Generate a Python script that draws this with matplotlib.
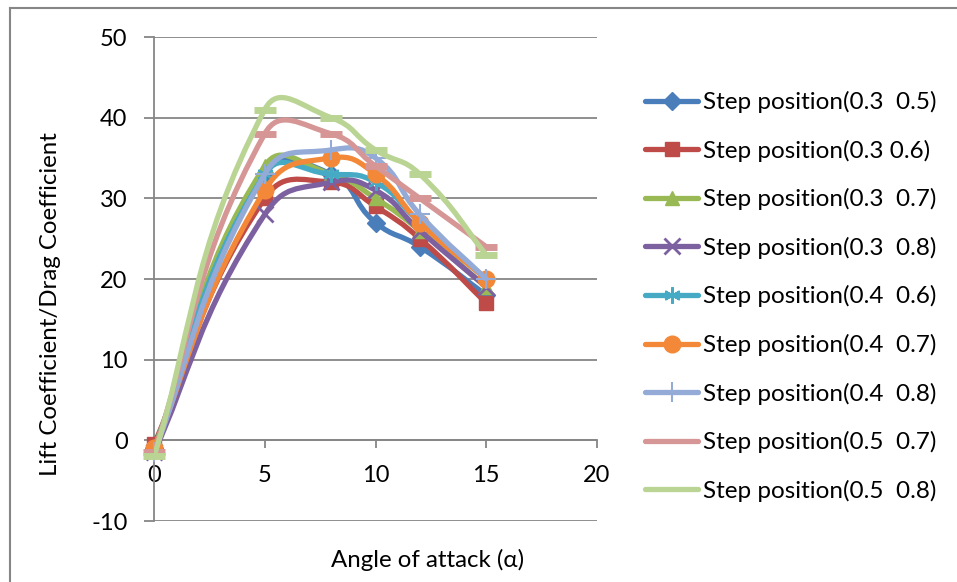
import numpy as np
import matplotlib
matplotlib.use("Agg")
from matplotlib import pyplot as plt
from matplotlib.path import Path
from matplotlib.patches import PathPatch
from matplotlib.lines import Line2D

# angle of attack (deg)
alpha = [0, 5, 8, 10, 12, 15]

# lift/drag ratio for each step position
s_03_05 = [-1.0, 33, 33, 27, 24, 18]
s_03_06 = [-0.5, 30, 32, 29, 25, 17]
s_03_07 = [-1.0, 34, 33, 30, 26, 19]
s_03_08 = [-1.5, 28, 32, 31, 26, 19]
s_04_06 = [-1.0, 33, 33, 32, 27, 20]
s_04_07 = [-1.0, 31, 35, 33, 27, 20]
s_04_08 = [-1.5, 33, 36, 35, 28, 20]
s_05_07 = [-1.5, 38, 38, 34, 30, 24]
s_05_08 = [-2.0, 41, 40, 36, 33, 23]

labels = ['Step position(0.3  0.5)', 'Step position(0.3 0.6)', 'Step position(0.3  0.7)',
          'Step position(0.3  0.8)', 'Step position(0.4  0.6)', 'Step position(0.4  0.7)',
          'Step position(0.4  0.8)', 'Step position(0.5  0.7)', 'Step position(0.5  0.8)']
series = [s_03_05, s_03_06, s_03_07, s_03_08, s_04_06, s_04_07, s_04_08, s_05_07, s_05_08]

colors = ['#4A7EBB', '#BE4B48', '#98B954', '#7D60A0', '#46AAC5', '#F38938',
          '#94ABD8', '#D69695', '#B9D493']
markers = ['D', 's', '^', 'x', (6, 2, 0), 'o', '+', '_', '_']
msizes = [9, 10, 10, 11, 12, 12, 14, 16, 16]
mews = [1, 1, 1, 2, 1.5, 1, 1.5, 5, 5]

plt.rcParams['font.family'] = ['Lato', 'DejaVu Sans']
plt.rcParams['axes.unicode_minus'] = False


def smooth_path(ax, x, y, f=0.5):
    # bezier through the points, tangents weighted by segment length (screen space)
    pts = ax.transData.transform(np.column_stack([x, y]).astype(float))
    n = len(pts)
    d = np.hypot(*np.diff(pts, axis=0).T)
    verts = [pts[0]]
    codes = [Path.MOVETO]
    for i in range(n - 1):
        p1, p2 = pts[i], pts[i + 1]
        if i > 0:
            c1 = p1 + (p2 - pts[i - 1]) * f * d[i] / (d[i - 1] + d[i])
        else:
            c1 = p1 + (p2 - p1) / 3.0
        if i + 2 < n:
            c2 = p2 - (pts[i + 2] - p1) * f * d[i] / (d[i] + d[i + 1])
        else:
            c2 = p2 - (p2 - p1) / 3.0
        verts += [c1, c2, p2]
        codes += [Path.CURVE4] * 3
    verts = ax.transData.inverted().transform(np.array(verts))
    return Path(verts, codes)


fig = plt.figure(figsize=(9.57, 5.82), dpi=100)
ax = fig.add_axes([154 / 957, 1 - 521 / 582, (597 - 154) / 957, (521 - 37) / 582])
ax.set_xlim(0, 20)
ax.set_ylim(-10, 50)

grey = '#868686'
handles = []
for i, (vals, lab) in enumerate(zip(series, labels)):
    c = colors[i]
    patch = PathPatch(smooth_path(ax, alpha, vals), facecolor='none', edgecolor=c,
                      lw=3.8, capstyle='round', joinstyle='round', zorder=2 + i)
    ax.add_patch(patch)
    ax.plot(alpha, vals, linestyle='none', marker=markers[i], ms=msizes[i],
            color=c, mec=c, mew=mews[i], zorder=2 + i, clip_on=False)
    handles.append(Line2D([], [], color=c, lw=3.8, marker=markers[i],
                          ms=msizes[i], mec=c, mew=mews[i] if i < 7 else 0,
                          solid_capstyle='round'))

ax.set_xticks([0, 5, 10, 15, 20])
ax.set_yticks(range(-10, 51, 10))
ax.yaxis.grid(True, color=grey, lw=1.3)
ax.set_axisbelow(True)
for s in ['top', 'right']:
    ax.spines[s].set_visible(False)
ax.spines['bottom'].set_position(('data', 0))
for s in ['left', 'bottom']:
    ax.spines[s].set_color(grey)
    ax.spines[s].set_linewidth(1.3)
ax.tick_params(axis='both', colors=grey, width=1.3, labelcolor='black', labelsize=17)
ax.tick_params(axis='y', length=7, direction='out', pad=12)
ax.tick_params(axis='x', length=6, direction='out', pad=12)

fig.text(51 / 957, 1 - 304 / 582, 'Lift Coefficient/Drag Coefficient', rotation=90,
         ha='center', va='center', fontsize=17.3)
fig.text(428 / 957, 1 - 560 / 582, 'Angle of attack (\u03b1)', ha='center', va='center',
         fontsize=17.3)

fig.legend(handles, labels, loc='upper left', bbox_to_anchor=(645 / 957, 1 - 91 / 582),
           frameon=False, fontsize=17.5, handlelength=2.2, handletextpad=0.2,
           labelspacing=1.09, borderaxespad=0, borderpad=0)

# chart area frame
fig.add_artist(Line2D([10 / 957, 10 / 957], [1 - 8 / 582, 0], transform=fig.transFigure,
                      color=grey, lw=1.5))
fig.add_artist(Line2D([10 / 957, 1], [1 - 8 / 582, 1 - 8 / 582], transform=fig.transFigure,
                      color=grey, lw=1.5))

fig.savefig('out.png', dpi=100)
